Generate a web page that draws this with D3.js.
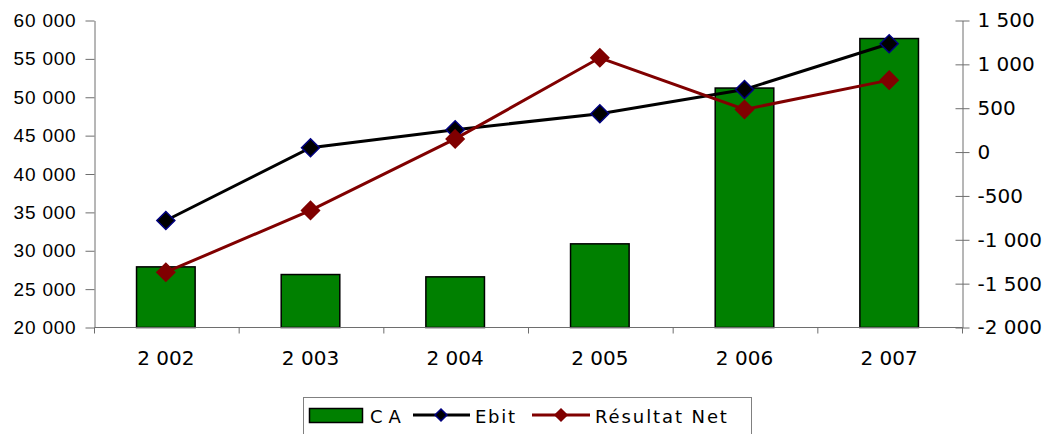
<!DOCTYPE html>
<html>
<head>
<meta charset="utf-8">
<script src="https://cdn.jsdelivr.net/npm/d3@7/dist/d3.min.js"></script>
<style>
  html, body { margin: 0; padding: 0; background: #fff; }
  svg { display: block; }
</style>
</head>
<body>
<svg id="chart" width="1056" height="434"></svg>
<script>
// Chiffre d'affaires (bars, left axis) and Ebit / Résultat Net (lines, right axis)
const years = ["2 002", "2 003", "2 004", "2 005", "2 006", "2 007"];
const ca = [27900, 26900, 26600, 30900, 51200, 57650];
const ebit = [-780, 50, 255, 437, 714, 1235];
const resultatNet = [-1370, -665, 150, 1075, 486, 820];

const leftTicks = [20000, 25000, 30000, 35000, 40000, 45000, 50000, 55000, 60000];
const rightTicks = [-2000, -1500, -1000, -500, 0, 500, 1000, 1500];

const fmt = v => {
  const s = d3.format(",")(Math.abs(v)).replace(/,/g, " ");
  return (v < 0 ? "-" : "") + s;
};

const svg = d3.select("#chart");
const plot = { left: 94.5, right: 962.5, top: 20.5, bottom: 327.5 };
const axisColor = "#6e6e6e";

const x = d3.scaleBand().domain(years).range([plot.left, plot.right]);
const yL = d3.scaleLinear().domain([20000, 60000]).range([plot.bottom, plot.top]);
const yR = d3.scaleLinear().domain([-2000, 1500]).range([plot.bottom, plot.top]);

// Bars
const barW = x.bandwidth() * 0.405;
svg.append("g").selectAll("rect").data(ca).join("rect")
  .attr("x", (d, i) => x(years[i]) + x.bandwidth() / 2 - barW / 2 - 1)
  .attr("y", d => yL(d))
  .attr("width", barW)
  .attr("height", d => plot.bottom - yL(d))
  .attr("fill", "#008000")
  .attr("stroke", "#000")
  .attr("stroke-width", 1.5);

// Left axis
const gL = svg.append("g").attr("transform", `translate(${plot.left},0)`)
  .call(d3.axisLeft(yL).tickValues(leftTicks).tickFormat(fmt).tickSize(9).tickSizeOuter(0));
gL.select(".domain").attr("stroke", axisColor);
gL.selectAll(".tick line").attr("stroke", axisColor);
gL.selectAll(".tick text")
  .attr("x", -18)
  .attr("fill", "#000")
  .style("font-family", "'Liberation Sans', Arial, sans-serif")
  .style("font-size", "19px")
  .style("letter-spacing", "0.8px");

// Right axis (ticks cross the axis line)
const gR = svg.append("g").attr("transform", `translate(${plot.right},0)`)
  .call(d3.axisRight(yR).tickValues(rightTicks).tickFormat(fmt).tickSize(7).tickSizeOuter(0));
gR.select(".domain").attr("stroke", axisColor);
gR.selectAll(".tick line").attr("stroke", axisColor).attr("x1", -7);
gR.selectAll(".tick text")
  .attr("x", 15)
  .attr("fill", "#000")
  .style("font-family", "'DejaVu Sans', Verdana, sans-serif")
  .style("font-size", "20px");

// Category axis, ticks at band boundaries
const gX = svg.append("g");
gX.append("line")
  .attr("x1", plot.left).attr("x2", plot.right)
  .attr("y1", plot.bottom).attr("y2", plot.bottom)
  .attr("stroke", axisColor);
const bounds = years.map(y => x(y)).concat([plot.right]);
gX.selectAll("line.tk").data(bounds).join("line").attr("class", "tk")
  .attr("x1", d => d).attr("x2", d => d)
  .attr("y1", plot.bottom).attr("y2", plot.bottom + 6)
  .attr("stroke", axisColor);
gX.selectAll("text").data(years).join("text")
  .attr("x", d => x(d) + x.bandwidth() / 2 - 1)
  .attr("y", 365)
  .attr("text-anchor", "middle")
  .style("font-family", "'DejaVu Sans', Verdana, sans-serif")
  .style("font-size", "20px")
  .text(d => d);

// Lines
const cx = i => x(years[i]) + x.bandwidth() / 2 - 1;
const diamond = (px, py, r) => `M${px},${py - r}L${px + r},${py}L${px},${py + r}L${px - r},${py}Z`;

function drawSeries(values, lineColor, fill, stroke, r) {
  const line = d3.line().x((d, i) => cx(i)).y(d => yR(d));
  svg.append("path").datum(values)
    .attr("d", line)
    .attr("fill", "none")
    .attr("stroke", lineColor)
    .attr("stroke-width", 3);
  svg.append("g").selectAll("path").data(values).join("path")
    .attr("d", (d, i) => diamond(cx(i), yR(d), r))
    .attr("fill", fill)
    .attr("stroke", stroke)
    .attr("stroke-width", 1.5);
}
drawSeries(ebit, "#000", "#000", "#000080", 9);
drawSeries(resultatNet, "#800000", "#800000", "#800000", 9);

// Legend
const lg = svg.append("g");
lg.append("rect")
  .attr("x", 303.5).attr("y", 397.5).attr("width", 448).attr("height", 50)
  .attr("fill", "#fff").attr("stroke", "#808080").attr("stroke-width", 1);
lg.append("rect")
  .attr("x", 309.5).attr("y", 408.5).attr("width", 53).attr("height", 14)
  .attr("fill", "#008000").attr("stroke", "#000").attr("stroke-width", 1.5);
const legendText = (tx, label, ls) => lg.append("text")
  .attr("x", tx).attr("y", 423)
  .style("font-family", "'DejaVu Sans', Verdana, sans-serif")
  .style("font-size", "18px")
  .style("letter-spacing", ls)
  .text(label);
legendText(370, "CA", "6px");
lg.append("line").attr("x1", 413).attr("x2", 470).attr("y1", 415).attr("y2", 415)
  .attr("stroke", "#000").attr("stroke-width", 3);
lg.append("path").attr("d", diamond(441, 415, 6))
  .attr("fill", "#000").attr("stroke", "#000080").attr("stroke-width", 1.5);
legendText(475, "Ebit", "1.7px");
lg.append("line").attr("x1", 532).attr("x2", 590).attr("y1", 415).attr("y2", 415)
  .attr("stroke", "#800000").attr("stroke-width", 3);
lg.append("path").attr("d", diamond(561, 415, 6))
  .attr("fill", "#800000").attr("stroke", "#800000").attr("stroke-width", 1.5);
legendText(595, "Résultat Net", "1.9px");
</script>
</body>
</html>
